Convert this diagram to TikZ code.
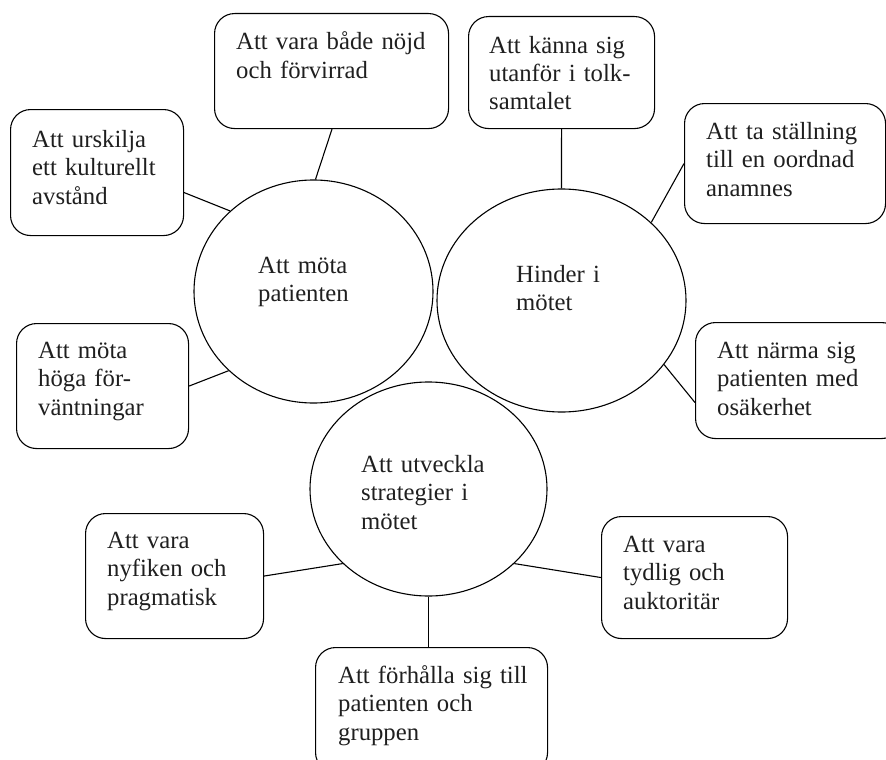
\documentclass[tikz,border=0pt]{standalone}
\usepackage{fontspec}
\setmainfont{Liberation Serif}
\usetikzlibrary{shapes.geometric}
\begin{document}
\begin{tikzpicture}[x=1pt,y=-1pt,
  boxnode/.style={draw, rounded corners=20pt, line width=1.1pt, inner sep=0pt, anchor=north west},
  lbl/.style={anchor=base west, inner sep=0pt, text width=240pt, align=left,
              font=\fontsize{24.7}{28.5}\selectfont, text=black!88},
  circ/.style={draw, ellipse, inner sep=0pt, line width=1.1pt},
  link/.style={line width=1.1pt}
]
\useasboundingbox (0,0) rectangle (886,760);
\clip (0,0) rectangle (886,760);
% circles
\node[circ, minimum width=239pt, minimum height=223pt] (c1) at (313.5,291.5) {};
\node[circ, minimum width=249pt, minimum height=223pt] (c2) at (561.5,300.5) {};
\node[circ, minimum width=237pt, minimum height=214pt] (c3) at (428.5,489) {};
\node[lbl] (tc1) at (258,273) {Att möta\\patienten};
\node[lbl] (tc2) at (516,282) {Hinder i\\mötet};
\node[lbl] (tc3) at (361,472) {Att utveckla\\strategier i\\mötet};
% boxes
\node[boxnode, minimum width=234pt, minimum height=115pt] (b1) at (214,13) {};
\node[boxnode, minimum width=173pt, minimum height=126pt] (b2) at (10,109) {};
\node[boxnode, minimum width=172pt, minimum height=125pt] (b3) at (16,323) {};
\node[boxnode, minimum width=186pt, minimum height=112pt] (b4) at (468,16) {};
\node[boxnode, minimum width=201pt, minimum height=120pt] (b5) at (684,103) {};
\node[boxnode, minimum width=206pt, minimum height=116pt] (b6) at (695,322) {};
\node[boxnode, minimum width=178pt, minimum height=125pt] (b7) at (85,513) {};
\node[boxnode, minimum width=186pt, minimum height=122pt] (b8) at (601,516) {};
\node[boxnode, minimum width=232pt, minimum height=125pt] (b9) at (315,647) {};
% box texts
\node[lbl] (t1) at (236,50) {Att vara både nöjd\\och förvirrad};
\node[lbl] (t2) at (32,147) {Att urskilja\\ett kulturellt\\avstånd};
\node[lbl] (t3) at (38,358) {Att möta\\höga för-\\väntningar};
\node[lbl] (t4) at (489,53) {Att känna sig\\utanför i tolk-\\samtalet};
\node[lbl] (t5) at (706,139) {Att ta ställning\\till en oordnad\\anamnes};
\node[lbl] (t6) at (717,358) {Att närma sig\\patienten med\\osäkerhet};
\node[lbl] (t7) at (107,548) {Att vara\\nyfiken och\\pragmatisk};
\node[lbl] (t8) at (623,552) {Att vara\\tydlig och\\auktoritär};
\node[lbl] (t9) at (338,683) {Att förhålla sig till\\patienten och\\gruppen};
% connectors
\draw[link] ([xshift=118pt]b1.south west) -- (c1.89);
\draw[link] ([yshift=-20pt]b2.east) -- (c1.136.4);
\draw[link] (b3.east) -- (c1.223.2);
\draw[link] (b4.south) -- (c2.north);
\draw[link] (b5.west) -- (c2.41.6);
\draw[link] (c2.-32) -- ([yshift=-22pt]b6.west);
\draw[link] (b7.east) -- (c3.221.3);
\draw[link] (c3.-41.6) -- (b8.west);
\draw[link] (c3.south) -- (c3.south |- b9.north);
\end{tikzpicture}
\end{document}
